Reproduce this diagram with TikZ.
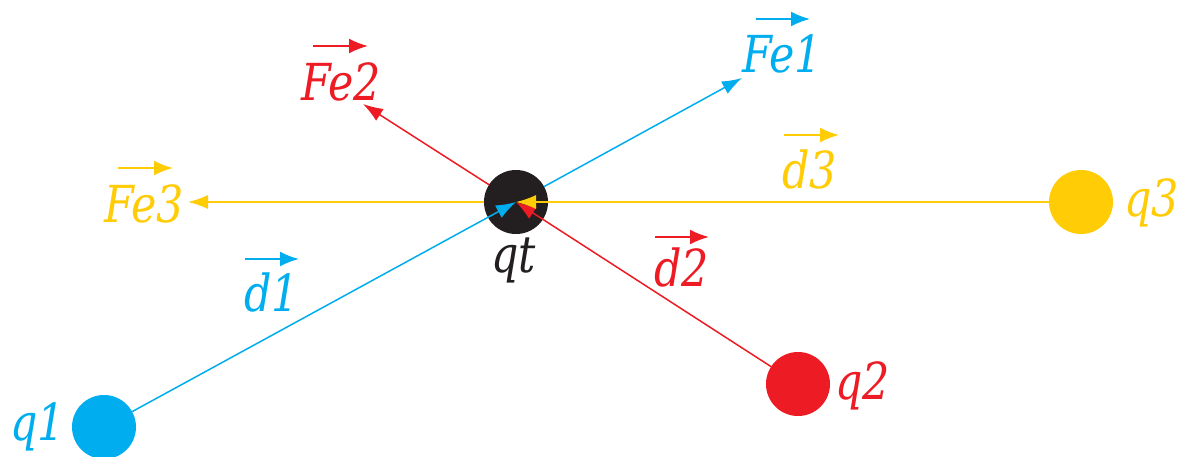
\documentclass[tikz,border=0pt]{standalone}
\usepackage{fontspec}
\newfontfamily\lblfont{DejaVu Serif}[FakeStretch=0.84]
\usetikzlibrary{arrows.meta}
\definecolor{cq}{RGB}{0,174,239}
\definecolor{rq}{RGB}{237,28,36}
\definecolor{yq}{RGB}{255,204,5}
\definecolor{bq}{RGB}{35,31,32}
\begin{document}
\begin{tikzpicture}[x=1pt,y=-1pt,
  charge/.style={circle,fill,minimum size=64pt,inner sep=0pt},
  lbl/.style={font=\lblfont\itshape\fontsize{51}{53}\selectfont,inner sep=0pt,anchor=base west},
  vecline/.style={line width=1.5pt,-{Latex[length=20pt,width=14pt]}},
  overar/.style={line width=2pt,-{Latex[length=19pt,width=15pt]}}
]
\useasboundingbox[fill=white] (0,0) rectangle (1184,456);
% charges
\node[charge,bq] (qt) at (516,202) {};
\node[charge,cq] (q1) at (104,427) {};
\node[charge,rq] (q2) at (798,384) {};
\node[charge,yq] (q3) at (1081,202) {};
% force tips
\coordinate (t1) at (742,78);
\coordinate (t2) at (363,104);
\coordinate (t3) at (188,202);
% force vectors
\draw[vecline,cq] (qt) -- (t1);
\draw[vecline,rq] (qt) -- (t2);
\draw[vecline,yq] (qt) -- (t3);
% distance vectors
\draw[vecline,cq] (q1) -- (qt.center);
\draw[vecline,rq] (q2) -- (qt.center);
\draw[vecline,yq] (q3) -- (qt.center);
% labels
\node[lbl,cq] (Fe1) at (742,72) {Fe1};
\node[lbl,rq] (Fe2) at (301,100) {Fe2};
\node[lbl,yq] (Fe3) at (104,222) {Fe3};
\node[lbl,cq] (d1) at (244,311) {d1};
\node[lbl,rq] (d2) at (654,286) {d2};
\node[lbl,yq] (d3) at (782,188) {d3};
\node[lbl,bq] (lqt) at (491,272) {qt};
\node[lbl,cq] (lq1) at (10,440) {q1};
\node[lbl,rq] (lq2) at (835,399) {q2};
\node[lbl,yq] (lq3) at (1124,216) {q3};
% over arrows
\draw[overar,cq] ([shift={(14,-53)}]Fe1.base west) -- ([shift={(68,-53)}]Fe1.base west);
\draw[overar,rq] ([shift={(12,-54)}]Fe2.base west) -- ([shift={(67,-54)}]Fe2.base west);
\draw[overar,yq] ([shift={(14,-54)}]Fe3.base west) -- ([shift={(69,-54)}]Fe3.base west);
\draw[overar,cq] ([shift={(1,-52)}]d1.base west) -- ([shift={(55,-52)}]d1.base west);
\draw[overar,rq] ([shift={(1,-49)}]d2.base west) -- ([shift={(55,-49)}]d2.base west);
\draw[overar,yq] ([shift={(2,-53)}]d3.base west) -- ([shift={(57,-53)}]d3.base west);
\end{tikzpicture}
\end{document}
